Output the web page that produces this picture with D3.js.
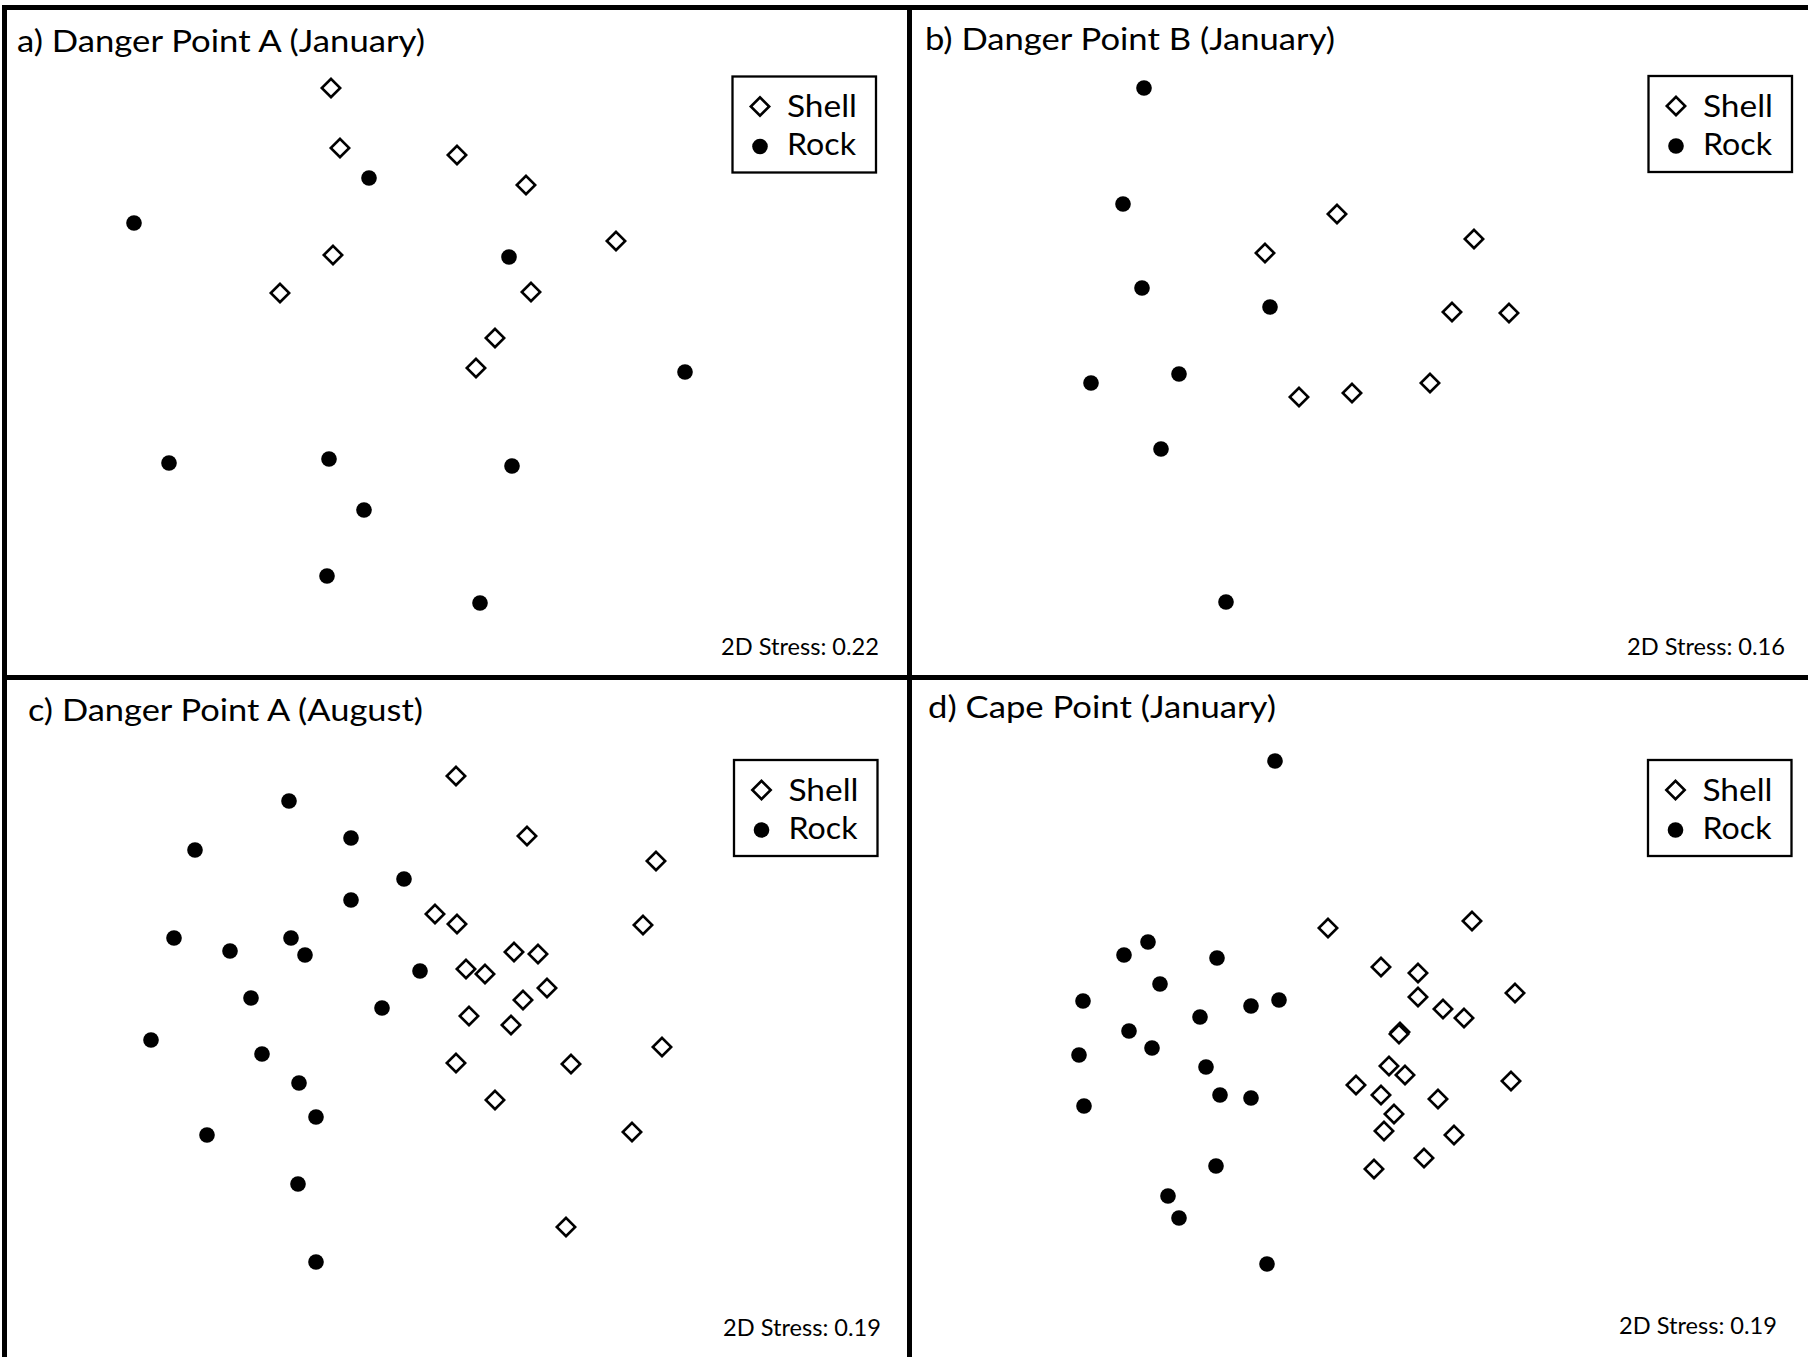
<!DOCTYPE html>
<html><head><meta charset="utf-8">
<script src="https://cdn.jsdelivr.net/npm/d3@7"></script>
<style>html,body{margin:0;padding:0;background:#fff;overflow:hidden}</style>
</head><body>
<svg id="chart" width="1808" height="1357"></svg>
<script>
// ---------------- DATA (nMDS coordinates) ----------------
const titles = ["a) Danger Point A (January)", "b) Danger Point B (January)", "c) Danger Point A (August)", "d) Cape Point (January)"];
const stressValues = [0.22, 0.16, 0.19, 0.19];
const groupNames = ["Shell", "Rock"];

const shellA = [[-1.26,2.57],[-1.17,1.97],[0.00,1.90],[0.69,1.60],[1.59,1.04],[-1.24,0.90],[-1.77,0.52],[0.74,0.53],[0.38,0.07],[0.19,-0.23]];
const rockA  = [[-0.88,1.67],[-3.23,1.22],[0.52,0.88],[2.28,-0.27],[-2.88,-1.18],[-1.28,-1.14],[0.55,-1.21],[-0.93,-1.65],[-1.30,-2.31],[0.23,-2.58]];

const shellB = [[-0.25,1.31],[-0.97,0.92],[1.12,1.06],[0.90,0.33],[1.47,0.32],[0.68,-0.38],[-0.63,-0.52],[-0.10,-0.48]];
const rockB  = [[-2.18,2.57],[-2.39,1.41],[-2.20,0.57],[-0.92,0.38],[-2.71,-0.38],[-1.83,-0.29],[-2.01,-1.04],[-1.36,-2.57]];

const shellC = [[-0.01,2.39],[0.70,1.79],[1.99,1.54],[-0.22,1.01],[0.00,0.91],[1.86,0.90],[0.57,0.63],[0.81,0.61],[0.09,0.46],[0.28,0.41],
                [0.90,0.27],[0.66,0.15],[0.12,-0.01],[0.54,-0.10],[2.05,-0.32],[-0.01,-0.48],[1.14,-0.49],[0.38,-0.85],[1.75,-1.17],[1.09,-2.12]];
const rockC  = [[-1.68,2.14],[-2.62,1.65],[-1.06,1.77],[-0.53,1.36],[-1.06,1.15],[-2.83,0.77],[-2.27,0.64],[-1.66,0.77],[-1.52,0.60],[-0.37,0.44],
                [-2.06,0.17],[-0.75,0.07],[-3.06,-0.25],[-1.95,-0.39],[-1.58,-0.68],[-1.41,-1.02],[-2.50,-1.20],[-1.59,-1.69],[-1.41,-2.47]];

const shellD = [[-0.34,0.87],[1.10,0.94],[0.19,0.48],[0.56,0.42],[1.53,0.22],[0.56,0.18],[0.81,0.06],[1.02,-0.03],[0.38,-0.17],[0.37,-0.19],
                [0.27,-0.51],[0.43,-0.60],[1.49,-0.66],[-0.06,-0.70],[0.19,-0.80],[0.76,-0.84],[0.32,-0.99],[0.22,-1.16],[0.92,-1.20],[0.62,-1.43],[0.12,-1.54]];
const rockD  = [[-0.87,2.54],[-2.38,0.60],[-2.14,0.73],[-1.45,0.57],[-2.02,0.31],[-2.79,0.14],[-1.11,0.09],[-0.83,0.15],[-1.62,-0.02],[-2.33,-0.16],
                [-2.10,-0.33],[-2.83,-0.40],[-1.56,-0.52],[-1.42,-0.80],[-1.11,-0.83],[-2.78,-0.91],[-1.46,-1.51],[-1.94,-1.81],[-1.83,-2.03],[-0.95,-2.49]];

const shellData = [shellA, shellB, shellC, shellD];
const rockData  = [rockA, rockB, rockC, rockD];

// ---------------- LAYOUT ----------------
const W = 1808, H = 1357;
const panelW = 900, panelH = 670;
const xDomain = [-4.5, 4.5], yDomain = [-3.35, 3.35];
const layout = [
  {x0: 7,   y0: 10,  titleX: 17,  titleY: 52,  titleLen: 408, stressX: 879,  stressY: 655,  legX: 732.5, legY: 76.5},
  {x0: 912, y0: 10,  titleX: 925, titleY: 50,  titleLen: 410, stressX: 1785, stressY: 654.5, legX: 1648.5, legY: 76},
  {x0: 7,   y0: 680, titleX: 28,  titleY: 721, titleLen: 395, stressX: 881,  stressY: 1336, legX: 734,   legY: 760},
  {x0: 912, y0: 680, titleX: 928, titleY: 718, titleLen: 348, stressX: 1777, stressY: 1334, legX: 1648,  legY: 760}
];
const FONT = "Lato, 'Open Sans', sans-serif";

const svg = d3.select("#chart");
svg.append("rect").attr("width", W).attr("height", H).attr("fill", "#fff");

const diamond = d3.symbol().type(d3.symbolSquare).size(168);

layout.forEach((L, i) => {
  const x = d3.scaleLinear().domain(xDomain).range([L.x0, L.x0 + panelW]);
  const y = d3.scaleLinear().domain(yDomain).range([L.y0 + panelH, L.y0]);
  const g = svg.append("g").attr("class", "panel");

  g.append("text")
    .attr("x", L.titleX).attr("y", L.titleY)
    .attr("font-family", FONT).attr("font-size", 31).attr("fill", "#000")
    .attr("textLength", L.titleLen).attr("lengthAdjust", "spacingAndGlyphs")
    .text(titles[i]);

  g.append("text")
    .attr("x", L.stressX - 158).attr("y", L.stressY)
    .attr("font-family", FONT).attr("font-size", 23.5).attr("fill", "#000")
    .attr("textLength", 158).attr("lengthAdjust", "spacingAndGlyphs")
    .text("2D Stress: " + d3.format(".2f")(stressValues[i]));

  g.selectAll("path.shell").data(shellData[i]).join("path")
    .attr("class", "shell")
    .attr("d", diamond)
    .attr("transform", d => `translate(${x(d[0])},${y(d[1])}) rotate(45)`)
    .attr("fill", "#fff").attr("stroke", "#000").attr("stroke-width", 2.6);

  g.selectAll("circle.rock").data(rockData[i]).join("circle")
    .attr("class", "rock")
    .attr("cx", d => x(d[0])).attr("cy", d => y(d[1]))
    .attr("r", 7.8).attr("fill", "#000");

  // legend
  const lg = g.append("g").attr("transform", `translate(${L.legX},${L.legY})`);
  lg.append("rect").attr("width", 143.5).attr("height", 96)
    .attr("fill", "#fff").attr("stroke", "#000").attr("stroke-width", 2.3);
  lg.append("path").attr("d", diamond)
    .attr("transform", "translate(27.5,30) rotate(45)")
    .attr("fill", "#fff").attr("stroke", "#000").attr("stroke-width", 2.6);
  lg.append("circle").attr("cx", 27.5).attr("cy", 70).attr("r", 7.8).attr("fill", "#000");
  lg.selectAll("text").data(groupNames).join("text")
    .attr("x", 54.5).attr("y", (d, k) => k === 0 ? 40.5 : 78.5)
    .attr("font-family", FONT).attr("font-size", 31).attr("fill", "#000")
    .attr("textLength", (d, k) => k === 0 ? 70 : 69).attr("lengthAdjust", "spacingAndGlyphs")
    .text(d => d);
});

// frame lines
const frame = svg.append("g").attr("stroke", "#000").attr("stroke-width", 5);
frame.append("line").attr("x1", 2).attr("x2", W).attr("y1", 7.5).attr("y2", 7.5);
frame.append("line").attr("x1", 2).attr("x2", W).attr("y1", 677.5).attr("y2", 677.5);
frame.append("line").attr("x1", 4.5).attr("x2", 4.5).attr("y1", 5).attr("y2", H);
frame.append("line").attr("x1", 909.5).attr("x2", 909.5).attr("y1", 5).attr("y2", H);
</script>
</body></html>
